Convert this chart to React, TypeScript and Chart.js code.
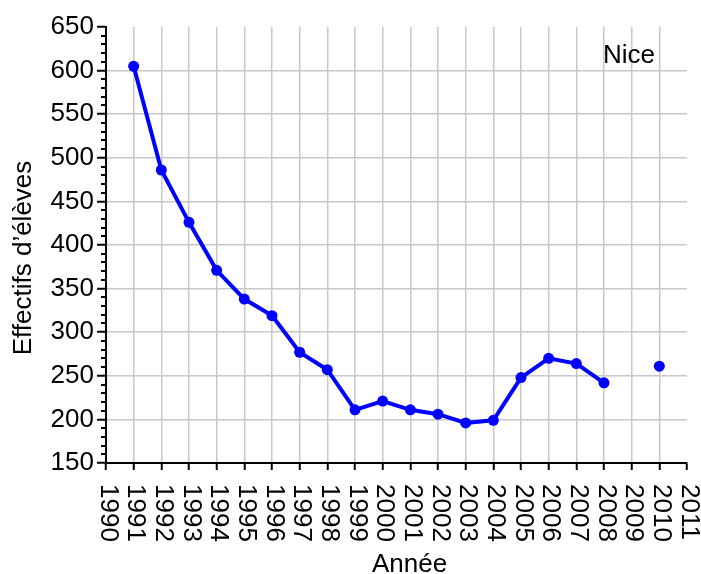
import React, { useEffect, useRef } from "react";
import { Chart, registerables } from "chart.js";

Chart.register(...registerables);

// ---- data ----
const years = [1991, 1992, 1993, 1994, 1995, 1996, 1997, 1998, 1999, 2000, 2001, 2002, 2003, 2004, 2005, 2006, 2007, 2008, 2009, 2010];
const effectifs = [605, 486, 426, 371, 338, 319, 277, 257, 211, 221, 211, 206, 196, 199, 248, 270, 264, 242, null, 261];
const X_MIN = 1990;
const X_MAX = 2011;
const Y_MIN = 150;
const Y_MAX = 650;
const Y_STEP = 50;
const Y_MINOR_STEP = 10;
const X_TITLE = "Année";
const Y_TITLE = "Effectifs d’élèves";
const LABEL = "Nice";

const FONT_FAMILY = "'Liberation Sans', Arial, Helvetica, sans-serif";
const FONT_SIZE = 26;
const FONT = `${FONT_SIZE}px ${FONT_FAMILY}`;
const GRID_COLOR = "#c8c8c8";

const customPlugin = {
  id: "customDecor",
  afterDraw(chart: any) {
    const { ctx, chartArea } = chart;
    const xs = chart.scales.x;
    const ys = chart.scales.y;
    ctx.save();
    // minor ticks on y axis
    ctx.strokeStyle = "#000";
    ctx.lineWidth = 2;
    for (let v = Y_MIN; v <= Y_MAX; v += Y_MINOR_STEP) {
      if (v % Y_STEP === 0) continue;
      const py = Math.round(ys.getPixelForValue(v));
      ctx.beginPath();
      ctx.moveTo(chartArea.left - 5, py);
      ctx.lineTo(chartArea.left, py);
      ctx.stroke();
    }
    // x tick labels, reading top to bottom
    ctx.font = FONT;
    ctx.fillStyle = "#000";
    ctx.textAlign = "left";
    ctx.textBaseline = "middle";
    xs.ticks.forEach((t: any) => {
      const px = xs.getPixelForValue(t.value);
      ctx.save();
      ctx.translate(px + 2, chartArea.bottom + 21);
      ctx.rotate(Math.PI / 2);
      ctx.fillText(String(t.value), 0, 0);
      ctx.restore();
    });
    // axis titles
    ctx.textBaseline = "alphabetic";
    ctx.textAlign = "center";
    ctx.fillText(X_TITLE, (chartArea.left + chartArea.right) / 2 + 13, 572);
    ctx.save();
    ctx.translate(31, (chartArea.top + chartArea.bottom) / 2 + 13);
    ctx.rotate(-Math.PI / 2);
    ctx.fillText(Y_TITLE, 0, 0);
    ctx.restore();
    // series label
    ctx.textAlign = "left";
    ctx.fillText(LABEL, chartArea.right - 84, chartArea.top + 36);
    ctx.restore();
  },
};

export default function App() {
  const canvasRef = useRef<HTMLCanvasElement | null>(null);

  useEffect(() => {
    if (!canvasRef.current) return;
    const chart = new Chart(canvasRef.current, {
      type: "line",
      data: {
        datasets: [
          {
            label: LABEL,
            data: years.map((yr, i) => ({ x: yr, y: effectifs[i] })) as any,
            borderColor: "#0000ff",
            backgroundColor: "#0000ff",
            borderWidth: 4,
            pointRadius: 5.5,
            pointBorderWidth: 0,
            pointBackgroundColor: "#0000ff",
            spanGaps: false,
            tension: 0,
          },
        ],
      },
      options: {
        animation: false,
        responsive: false,
        devicePixelRatio: 1,
        layout: { padding: { left: 0, top: 27, right: 14, bottom: 0 } },
        plugins: { legend: { display: false }, tooltip: { enabled: false } },
        scales: {
          x: {
            type: "linear",
            min: X_MIN,
            max: X_MAX,
            ticks: { stepSize: 1, display: false, autoSkip: false },
            grid: {
              color: (c: any) => (c.tick && c.tick.value === X_MAX ? "rgba(0,0,0,0)" : GRID_COLOR),
              lineWidth: 1.5,
              tickColor: "#000",
              tickWidth: 2,
              tickLength: 7,
            },
            border: { display: true, color: "#000", width: 2 },
            afterFit: (s: any) => {
              s.height = 111;
              s.paddingLeft = 0;
              s.paddingRight = 0;
            },
          },
          y: {
            type: "linear",
            min: Y_MIN,
            max: Y_MAX,
            ticks: {
              stepSize: Y_STEP,
              autoSkip: false,
              color: "#000",
              padding: 3,
              font: { family: FONT_FAMILY, size: FONT_SIZE },
            },
            grid: {
              color: (c: any) => (c.tick && c.tick.value === Y_MAX ? "rgba(0,0,0,0)" : GRID_COLOR),
              lineWidth: 1.5,
              tickColor: "#000",
              tickWidth: 2,
              tickLength: 9,
            },
            border: { display: true, color: "#000", width: 2 },
            afterFit: (s: any) => {
              s.width = 106;
              s.paddingTop = 0;
              s.paddingBottom = 0;
            },
          },
        },
      },
      plugins: [customPlugin],
    });
    return () => chart.destroy();
  }, []);

  return (
    <div style={{ position: "absolute", left: 0, top: 0, width: 701, height: 574, background: "#fff" }}>
      <canvas ref={canvasRef} width={701} height={574} style={{ display: "block" }} />
    </div>
  );
}
